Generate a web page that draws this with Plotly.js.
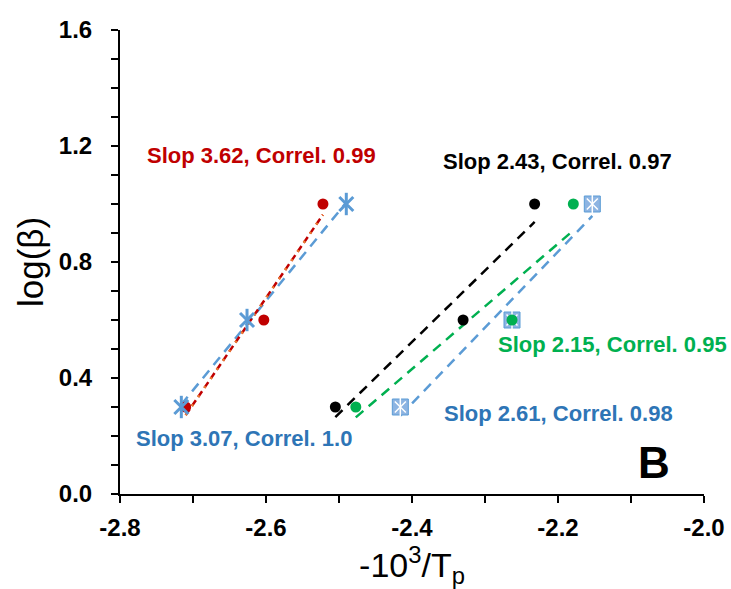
<!DOCTYPE html>
<html><head><meta charset="utf-8">
<script src="https://cdn.plot.ly/plotly-3.0.1.min.js"></script>
<style>html,body{margin:0;padding:0;background:#fff}#chart{width:731px;height:589px}</style>
</head><body><div id="chart"></div>
<script>
// Data
var redX   = [-2.710, -2.603, -2.522];
var redY   = [0.3, 0.6, 1.0];
var blue1X = [-2.716, -2.626, -2.490];
var blue1Y = [0.3, 0.6, 1.0];
var blackX = [-2.505, -2.330, -2.232];
var blackY = [0.3, 0.6, 1.0];
var greenX = [-2.477, -2.263, -2.179];
var greenY = [0.3, 0.6, 1.0];
var blue2X = [-2.416, -2.263, -2.153];
var blue2Y = [0.3, 0.6, 1.0];

var xTickVals = [-2.8, -2.6, -2.4, -2.2, -2.0];
var xTickText = ["-2.8", "-2.6", "-2.4", "-2.2", "-2.0"];
var yTickVals = [0, 0.4, 0.8, 1.2, 1.6];
var yTickText = ["0.0", "0.4", "0.8", "1.2", "1.6"];

var labels = ["Slop 3.62, Correl. 0.99", "Slop 3.07, Correl. 1.0", "Slop 2.43, Correl. 0.97", "Slop 2.15, Correl. 0.95", "Slop 2.61, Correl. 0.98"];

function fit(xs, ys){
  var n=xs.length, mx=0, my=0;
  for(var i=0;i<n;i++){mx+=xs[i];my+=ys[i];}
  mx/=n; my/=n;
  var sxx=0,sxy=0;
  for(var i=0;i<n;i++){sxx+=(xs[i]-mx)*(xs[i]-mx);sxy+=(xs[i]-mx)*(ys[i]-my);}
  var b=sxy/sxx, a=my-b*mx;
  var x0=Math.min.apply(null,xs), x1=Math.max.apply(null,xs);
  return {x:[x0,x1], y:[a+b*x0, a+b*x1]};
}

var RED='#C00000', ORANGE='#ED7D31', BLUE='#5B9BD5', BLUET='#2E75B6', GREEN='#00B050';
var traces=[];
function line(xs,ys,color,dash,w){
  var f=fit(xs,ys);
  traces.push({x:f.x,y:f.y,mode:'lines',line:{color:color,dash:dash,width:w||2.5},hoverinfo:'skip'});
}
line(blue1X,blue1Y,BLUE,'10px,7px');
line(redX,redY,RED,'7px,4px');
line(redX,redY,ORANGE,'2px,9px');
line(blackX,blackY,'#000000','10px,7px');
line(greenX,greenY,GREEN,'10px,7px');
line(blue2X,blue2Y,BLUE,'10px,7px');

traces.push({x:redX,y:redY,mode:'markers',marker:{color:RED,size:11,symbol:'circle'}});
traces.push({x:blue1X,y:blue1Y,mode:'markers',marker:{color:BLUE,size:14,symbol:'x-thin-open',line:{color:BLUE,width:3}}});
traces.push({x:blue1X,y:blue1Y,mode:'markers',marker:{color:BLUE,size:16,symbol:'line-ns-open',line:{color:BLUE,width:3}}});
traces.push({x:blackX,y:blackY,mode:'markers',marker:{color:'#000000',size:11,symbol:'circle'}});
traces.push({x:blue2X,y:blue2Y,mode:'markers',marker:{color:'#8DB4E2',size:16,symbol:'square',line:{color:BLUE,width:1}}});
traces.push({x:blue2X,y:blue2Y,mode:'markers',marker:{color:'#ffffff',size:11,symbol:'x-thin-open',line:{color:'#ffffff',width:1.5}}});
traces.push({x:blue2X,y:blue2Y,mode:'markers',marker:{color:'#ffffff',size:13,symbol:'line-ns-open',line:{color:'#ffffff',width:1.5}}});
traces.push({x:greenX,y:greenY,mode:'markers',marker:{color:GREEN,size:11,symbol:'circle'}});

var FAM='Arial, Liberation Sans, sans-serif';
var tf={family:FAM,size:24,color:'#000',weight:'bold'};
var af={family:FAM,size:22,weight:'bold'};
var layout={
  width:731,height:589,showlegend:false,
  paper_bgcolor:'#fff',plot_bgcolor:'#fff',
  margin:{l:120,r:27,t:30,b:95},
  xaxis:{range:[-2.8,-2.0],tickmode:'array',tickvals:xTickVals,ticktext:xTickText,showgrid:false,zeroline:false,
    showline:true,linecolor:'#000',linewidth:2,ticks:'outside',ticklen:7,tickwidth:2,tickcolor:'#000',
    minor:{dtick:0.1,tick0:-2.8,ticks:'outside',ticklen:7,tickwidth:2,tickcolor:'#000'},
    tickfont:tf,ticklabelstandoff:4,
    title:{text:'-10<sup>3</sup>/T<sub>p</sub>',font:{family:FAM,size:34,color:'#000'},standoff:12}},
  yaxis:{range:[0,1.6],tickmode:'array',tickvals:yTickVals,ticktext:yTickText,showgrid:false,zeroline:false,
    showline:true,linecolor:'#000',linewidth:2,ticks:'outside',ticklen:7,tickwidth:2,tickcolor:'#000',
    minor:{dtick:0.1,tick0:0,ticks:'outside',ticklen:7,tickwidth:2,tickcolor:'#000'},
    tickfont:tf,ticklabelstandoff:14,
    title:{text:'log(β)',font:{family:FAM,size:35,color:'#000'},standoff:5}},
  annotations:[
    {x:-2.6055,y:1.166,xref:'x',yref:'y',text:labels[0],showarrow:false,font:Object.assign({},af,{color:RED})},
    {x:-2.630,y:0.193,xref:'x',yref:'y',text:labels[1],showarrow:false,font:Object.assign({},af,{color:BLUET})},
    {x:-2.201,y:1.145,xref:'x',yref:'y',text:labels[2],showarrow:false,font:Object.assign({},af,{color:'#000'})},
    {x:-2.1247,y:0.517,xref:'x',yref:'y',text:labels[3],showarrow:false,font:Object.assign({},af,{color:GREEN})},
    {x:-2.200,y:0.276,xref:'x',yref:'y',text:labels[4],showarrow:false,font:Object.assign({},af,{color:BLUET})},
    {x:-2.068,y:0.110,xref:'x',yref:'y',text:'B',showarrow:false,font:{family:FAM,size:44,weight:'bold',color:'#000'}}
  ]
};
Plotly.newPlot('chart',traces,layout,{displayModeBar:false,staticPlot:true});
</script></body></html>
